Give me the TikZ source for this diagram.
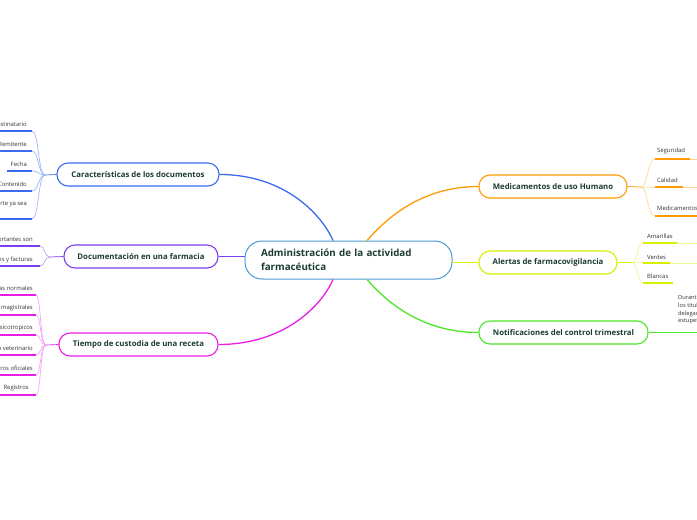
\documentclass[tikz,border=0pt]{standalone}
\usepackage{fontspec}
\setmainfont{Open Sans}
\usetikzlibrary{calc}
\definecolor{txt}{HTML}{1B3D2F}
\definecolor{leaftxt}{HTML}{333333}
\definecolor{cblue}{HTML}{3B6CF0}\definecolor{lblue}{HTML}{9DB6F7}
\definecolor{cpurp}{HTML}{7B3FF2}\definecolor{lpurp}{HTML}{BCA2F7}
\definecolor{cmag}{HTML}{E81EE8}\definecolor{lmag}{HTML}{F5A5F5}
\definecolor{corg}{HTML}{FF9A00}\definecolor{lorg}{HTML}{FFD69A}
\definecolor{clime}{HTML}{D6F000}\definecolor{llime}{HTML}{ECF890}
\definecolor{cgrn}{HTML}{4DE62A}\definecolor{lgrn}{HTML}{A8F094}
\definecolor{ccen}{HTML}{4B9CD3}
\begin{document}
\begin{tikzpicture}[x=1pt,y=-1pt,
  mainbox/.style={draw=#1, line width=1.1pt, rounded corners=11pt, fill=white,
    font=\bfseries\fontsize{7.8}{9}\selectfont, text=txt, inner sep=0pt, minimum height=23pt},
  leaf/.style={font=\fontsize{5.9}{7}\selectfont, text=leaftxt, inner sep=0pt},
  thin/.style={draw=#1, line width=0.7pt},
  uline/.style={draw=#1, line width=1.6pt},
  conn/.style={draw=#1, line width=1.3pt}
]
\useasboundingbox (0,0) rectangle (697,520);

% central node
\node[draw=ccen, line width=1pt, rounded corners=17pt, fill=white, minimum width=207pt,
  minimum height=38pt, text width=175pt, align=left, inner xsep=16pt, inner ysep=0pt,
  font=\bfseries\fontsize{9.8}{14}\selectfont, text=txt] (cen) at (348.5,260)
  {Administración de la actividad\\farmacéutica};

% main nodes
\node[mainbox=cblue, minimum width=162pt] (c1) at (138,174.5) {Características de los documentos};
\node[mainbox=cpurp, minimum width=154pt] (c2) at (141,256.5) {Documentación en una farmacia};
\node[mainbox=cmag, minimum width=159pt] (c3) at (138.5,344.5) {Tiempo de custodia de una receta};
\node[mainbox=corg, minimum width=148pt] (r1) at (553,186.5) {Medicamentos de uso Humano};
\node[mainbox=clime, minimum width=138pt] (r2) at (548,262.5) {Alertas de farmacovigilancia};
\node[mainbox=cgrn, minimum width=169pt] (r3) at (563.5,332.5) {Notificaciones del control trimestral};

% connectors centre -> main
\coordinate (cbl) at ($(cen.north)+(-15.5,0)$);
\coordinate (cbr) at ($(cen.north)+(18.5,0)$);
\coordinate (cml) at ($(cen.south)+(-15.5,0)$);
\coordinate (cmr) at ($(cen.south)+(18.5,0)$);
\draw[conn=cblue] (c1.east) .. controls (285,174.5) and (322,215) .. (cbl);
\draw[conn=cpurp] (c2.east) -- (cen.west |- c2.east);
\draw[conn=cmag] (c3.east) .. controls (285,344.5) and (322,305) .. (cml);
\draw[conn=corg] (r1.west) .. controls (420,186.5) and (385,220) .. (cbr);
\draw[conn=clime] (cen.east |- r2.west) -- (r2.west);
\draw[conn=cgrn] (r3.west) .. controls (420,332.5) and (385,300) .. (cmr);

% ---- left: Caracteristicas
\coordinate (j1) at (45,175);
\draw[thin=cblue] (c1.west) -- (j1);
\foreach \y/\s [count=\i] in {131/0, 151/0, 171/7, 191/0, 219/0}{
  \coordinate (a\i) at (32,\y);
  \coordinate (as\i) at (\s,\y);
  \draw[thin=lblue] (j1) .. controls (38,175) and (39,\y) .. (a\i);
  \draw[uline=cblue] (a\i) -- (as\i);
}
\node[leaf, anchor=east] (t1) at (27,124) {Destinatario};
\node[leaf, anchor=east] (t2) at (27,144) {Remitente};
\node[leaf, anchor=east] (t3) at (27,164) {Fecha};
\node[leaf, anchor=east] (t4) at (27,184) {Contenido};
\node[leaf, anchor=east] (t5) at (27,204) {Soporte ya sea};

% ---- left: Documentacion
\coordinate (j2) at (50,257);
\draw[thin=cpurp] (c2.west) -- (j2);
\foreach \y [count=\i] in {246,266}{
  \coordinate (b\i) at (40,\y);
  \coordinate (bs\i) at (0,\y);
  \draw[thin=lpurp] (j2) .. controls (44,257) and (45,\y) .. (b\i);
  \draw[uline=cpurp] (b\i) -- (bs\i);
}
\node[leaf, anchor=east] (u1) at (33,240) {Documentos importantes son};
\node[leaf, anchor=east] (u2) at (33,260) {Albaranes y facturas};

% ---- left: Tiempo de custodia
\coordinate (j3) at (46,345);
\draw[thin=cmag] (c3.west) -- (j3);
\foreach \y [count=\i] in {295,315,335,355,375,395}{
  \coordinate (m\i) at (36,\y);
  \coordinate (ms\i) at (0,\y);
  \draw[thin=lmag] (j3) .. controls (40,345) and (41,\y) .. (m\i);
  \draw[uline=cmag] (m\i) -- (ms\i);
}
\node[leaf, anchor=east] (v1) at (33,288) {Recetas normales};
\node[leaf, anchor=east] (v2) at (33,308) {Fórmulas magistrales};
\node[leaf, anchor=east] (v3) at (33,328) {Psicotropicos};
\node[leaf, anchor=east] (v4) at (33,348) {Uso veterinario};
\node[leaf, anchor=east] (v5) at (33,368) {Libros oficiales};
\node[leaf, anchor=east] (v6) at (29,388) {Registros};

% ---- right: Medicamentos
\coordinate (k1) at (641,187);
\draw[thin=corg] (r1.east) -- (k1);
\foreach \y/\e/\l [count=\i] in {159/690/1, 187/683/1, 216/697/0}{
  \coordinate (o\i) at (655,\y);
  \coordinate (oe\i) at (\e,\y);
  \coordinate (ox\i) at (697,\y);
  \draw[thin=lorg] (k1) .. controls (648,187) and (647,\y) .. (o\i);
  \draw[uline=corg] (o\i) -- (oe\i);
  \ifnum\l=1 \draw[thin=lorg] (oe\i) -- (ox\i); \fi
}
\node[leaf, anchor=west] (w1) at (657,151) {Seguridad};
\node[leaf, anchor=west] (w2) at (657,180) {Calidad};
\node[leaf, anchor=west] (w3) at (657,208) {Medicamentos};

% ---- right: Alertas
\coordinate (k2) at (632,262.5);
\draw[thin=clime] (r2.east) -- (k2);
\foreach \y/\e/\l [count=\i] in {243/677/1, 263/670/1, 283/673/0}{
  \coordinate (p\i) at (643,\y);
  \coordinate (pe\i) at (\e,\y);
  \coordinate (px\i) at (697,\y);
  \draw[thin=llime] (k2) .. controls (638,262.5) and (637,\y) .. (p\i);
  \draw[uline=clime] (p\i) -- (pe\i);
  \ifnum\l=1 \draw[thin=llime] (pe\i) -- (px\i); \fi
}
\node[leaf, anchor=west] (x1) at (647,236) {Amarillas};
\node[leaf, anchor=west] (x2) at (647,257) {Verdes};
\node[leaf, anchor=west] (x3) at (647,276) {Blancas};

% ---- right: Notificaciones
\coordinate (n1) at (673,332.5);
\coordinate (n2) at (697,332.5);
\draw[thin=cgrn] (r3.east) -- (n1);
\draw[uline=cgrn] (n1) -- (n2);
\node[leaf, anchor=north west, align=left, font=\fontsize{5.7}{7.7}\selectfont] (y1) at (678,295.5)
  {Durante\\los titulares\\delegados\\estupefacientes};
\end{tikzpicture}
\end{document}
